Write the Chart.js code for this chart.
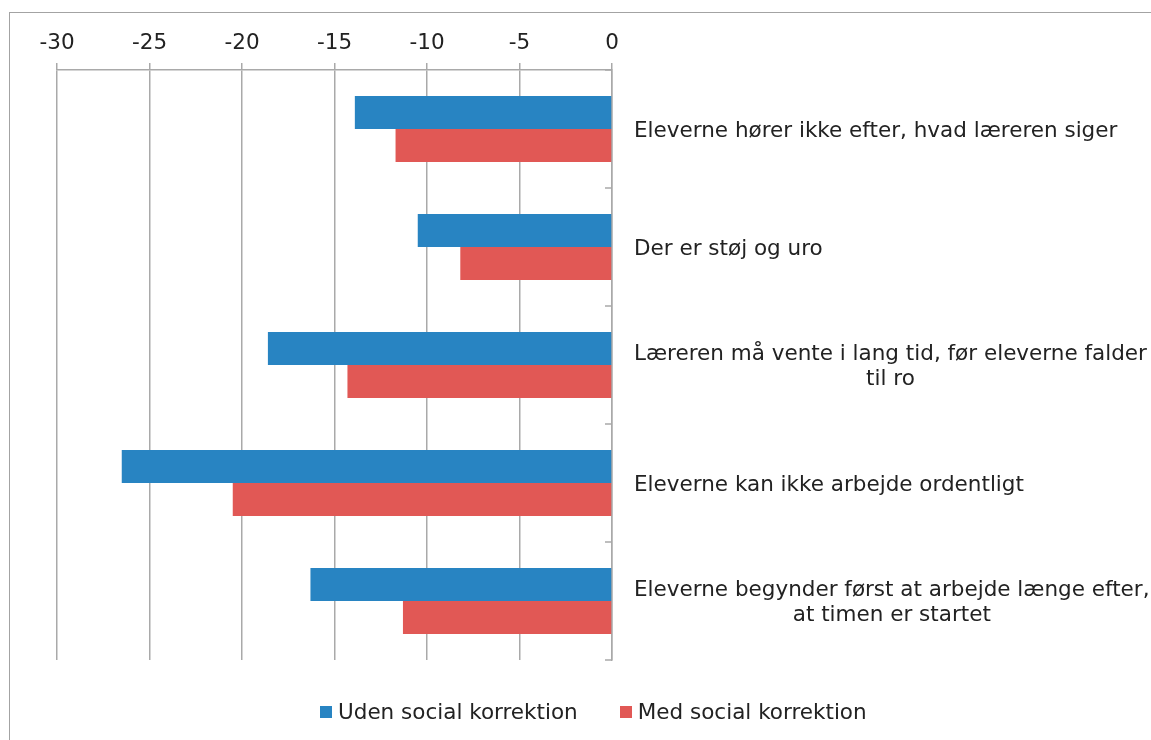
<!DOCTYPE html>
<html lang="da">
<head>
<meta charset="utf-8">
<title>Uro i klassen – med og uden social korrektion</title>
<script src="https://cdn.jsdelivr.net/npm/chart.js@4.4.1/dist/chart.umd.min.js"></script>
<style>
  html, body { margin: 0; padding: 0; background: #ffffff; overflow: hidden; }
  body { width: 1151px; height: 740px; position: relative; font-family: "DejaVu Sans", sans-serif; }
  #frame {
    position: absolute; left: 9px; top: 12px; width: 1300px; height: 900px;
    border-top: 1px solid #a3a3a3; border-left: 1px solid #a3a3a3;
  }
  #chart { position: absolute; left: 0; top: 0; }
  #legend {
    position: absolute; left: 320px; top: 699px; display: flex; align-items: center;
    font-size: 21.5px; color: #222222; white-space: nowrap;
  }
  .item { display: flex; align-items: center; margin-right: 42px; }
  .swatch { width: 12px; height: 12px; margin-right: 6px; }
</style>
</head>
<body>
<div id="frame"></div>
<canvas id="chart" width="1151" height="740"></canvas>
<div id="legend"></div>
<script>
// Categories (multi-line labels given as arrays)
const categories = [
  'Eleverne hører ikke efter, hvad læreren siger',
  'Der er støj og uro',
  ['Læreren må vente i lang tid, før eleverne falder', 'til ro'],
  'Eleverne kan ikke arbejde ordentligt',
  ['Eleverne begynder først at arbejde længe efter,', 'at timen er startet']
];

// Series
const seriesNames = ['Uden social korrektion', 'Med social korrektion'];
const udenSocialKorrektion = [-13.9, -10.5, -18.6, -26.5, -16.3];
const medSocialKorrektion  = [-11.7, -8.2, -14.3, -20.5, -11.3];
const seriesColors = ['#2884c2', '#e15855'];

// Value axis ticks
const xTicks = [-30, -25, -20, -15, -10, -5, 0];

const FONT = '"DejaVu Sans", Verdana, sans-serif';
const FONT_SIZE = 21.5;
const TEXT = '#222222';
const GRID = '#a9a9a9';

Chart.defaults.font.family = FONT;
Chart.defaults.font.size = FONT_SIZE;
Chart.defaults.color = TEXT;

// Draws category labels (block left-aligned, lines centred within the block)
// and the short inward tick marks on the category axis.
const categoryAxisDecor = {
  id: 'categoryAxisDecor',
  afterDraw(chart) {
    const ctx = chart.ctx;
    const yScale = chart.scales.y;
    const area = chart.chartArea;
    ctx.save();
    ctx.font = FONT_SIZE + 'px ' + FONT;
    ctx.fillStyle = TEXT;
    ctx.textAlign = 'center';
    ctx.textBaseline = 'middle';
    const lineH = 25;
    chart.data.labels.forEach((lab, i) => {
      const lines = Array.isArray(lab) ? lab : [lab];
      const w = Math.max(...lines.map(l => ctx.measureText(l).width));
      const cx = area.right + 22 + w / 2;
      const cy = yScale.getPixelForTick(i) + 2;
      lines.forEach((l, k) => {
        ctx.fillText(l, cx, cy + (k - (lines.length - 1) / 2) * lineH);
      });
    });
    ctx.strokeStyle = GRID;
    ctx.lineWidth = 1.5;
    for (let i = 0; i <= chart.data.labels.length; i++) {
      const y = Math.round(yScale.getPixelForValue(i - 0.5));
      ctx.beginPath();
      ctx.moveTo(area.right - 7, y);
      ctx.lineTo(area.right, y);
      ctx.stroke();
    }
    ctx.restore();
  }
};

const chart = new Chart(document.getElementById('chart'), {
  type: 'bar',
  data: {
    labels: categories,
    datasets: [
      { label: seriesNames[0], data: udenSocialKorrektion, backgroundColor: seriesColors[0] },
      { label: seriesNames[1], data: medSocialKorrektion, backgroundColor: seriesColors[1] }
    ]
  },
  options: {
    indexAxis: 'y',
    responsive: false,
    animation: false,
    events: [],
    categoryPercentage: 0.56,
    barPercentage: 1.0,
    layout: { padding: { left: 57, right: 26, top: 0, bottom: 80 } },
    plugins: {
      legend: { display: false },
      tooltip: { enabled: false }
    },
    scales: {
      x: {
        type: 'linear',
        position: 'top',
        min: xTicks[0],
        max: xTicks[xTicks.length - 1],
        afterBuildTicks: (scale) => { scale.ticks = xTicks.map(v => ({ value: v })); },
        afterFit: (scale) => { scale.height = 70; },
        ticks: { padding: 7, color: TEXT, font: { size: FONT_SIZE } },
        grid: { color: GRID, lineWidth: 1.5, tickLength: 7, drawTicks: true },
        border: { display: true, color: GRID, width: 1.5 }
      },
      y: {
        position: 'right',
        afterFit: (scale) => { scale.width = 513; },
        ticks: { display: false },
        grid: { display: false },
        border: { display: true, color: GRID, width: 1.5 }
      }
    }
  },
  plugins: [categoryAxisDecor]
});

// Legend built from the same series names and colours
const legend = document.getElementById('legend');
seriesNames.forEach((name, i) => {
  const item = document.createElement('div');
  item.className = 'item';
  const sw = document.createElement('span');
  sw.className = 'swatch';
  sw.style.background = seriesColors[i];
  const txt = document.createElement('span');
  txt.textContent = name;
  item.appendChild(sw);
  item.appendChild(txt);
  legend.appendChild(item);
});
</script>
</body>
</html>
